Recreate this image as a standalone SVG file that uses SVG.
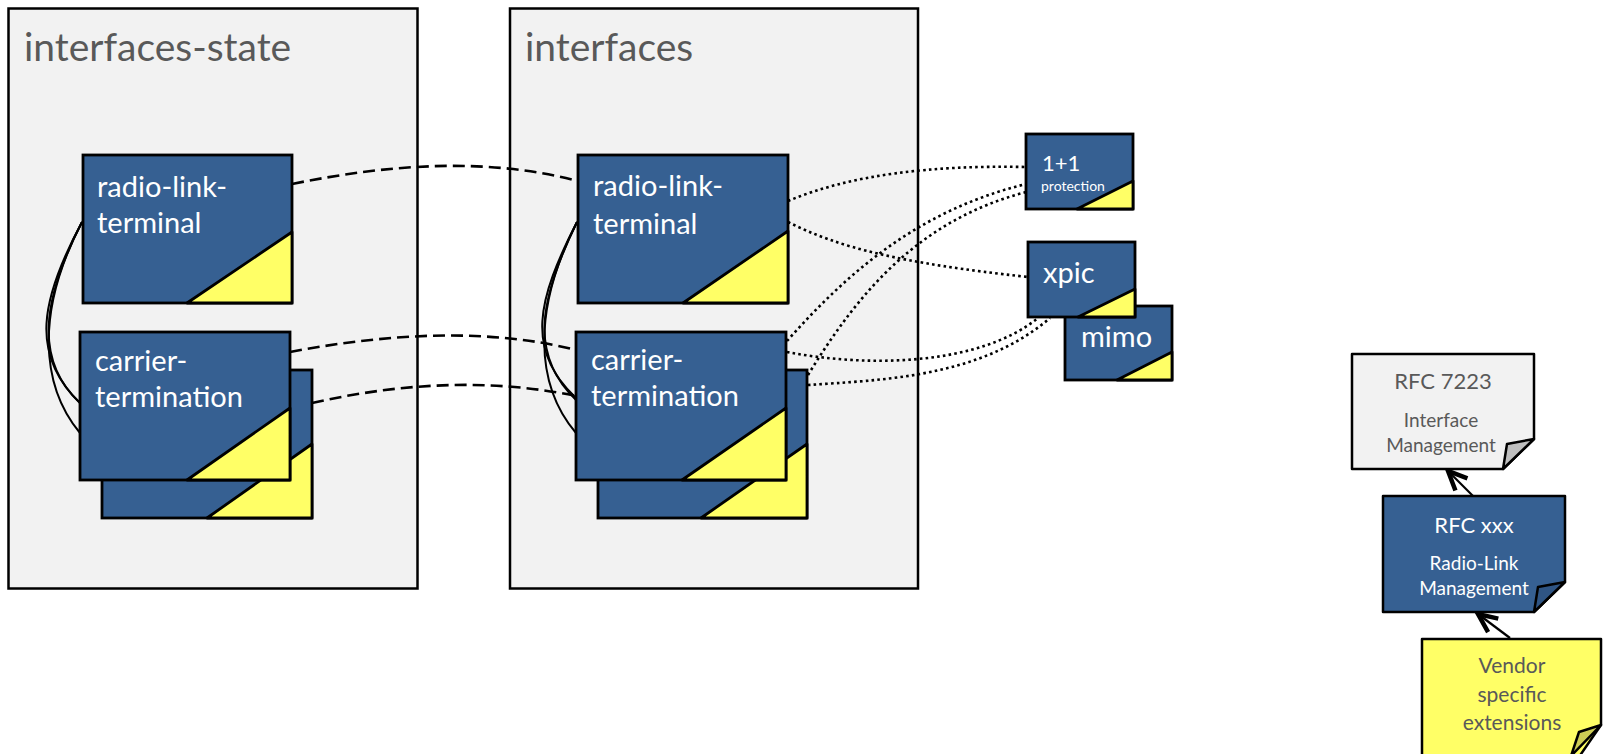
<svg xmlns="http://www.w3.org/2000/svg" width="1608" height="754" viewBox="0 0 1608 754">
<defs>
<style>
.cont{fill:#f2f2f2;stroke:#000;stroke-width:2.5}
.title{font-family:Lato,"Liberation Sans",sans-serif;font-size:39px;fill:#595959}
.box{fill:#366092;stroke:#000;stroke-width:2.8}
.tri{fill:#ffff66;stroke:#000;stroke-width:2.8;stroke-linejoin:round}
.lbl{font-family:Lato,"Liberation Sans",sans-serif;font-size:29px;fill:#ffffff}
.sm{font-family:Lato,"Liberation Sans",sans-serif;fill:#ffffff}
.dash{fill:none;stroke:#000;stroke-width:2.6;stroke-dasharray:12,6}
.dot{fill:none;stroke:#000;stroke-width:2.6;stroke-dasharray:2.6,3.2}
.solid{fill:none;stroke:#000;stroke-width:2}
.doc{stroke:#000;stroke-width:2.5;stroke-linejoin:round}
.dtxt{font-family:Lato,"Liberation Sans",sans-serif;text-anchor:middle}
.arr{fill:none;stroke:#000;stroke-width:2.2;marker-end:url(#ah)}
</style>
<marker id="ah" markerUnits="userSpaceOnUse" markerWidth="30" markerHeight="30" refX="0" refY="0" orient="auto" overflow="visible">
<path d="M-19,-8.5 L0,0 L-19,8.5" fill="none" stroke="#000" stroke-width="4.5" stroke-linejoin="miter"/>
</marker>
</defs>

<g id="interfaces-state">
<rect class="cont" x="8.5" y="8.5" width="409" height="580"/>
<text class="title" x="24" y="61">interfaces-state</text>
</g>
<g id="interfaces">
<rect class="cont" x="510" y="8.5" width="408" height="580"/>
<text class="title" x="525" y="61">interfaces</text>
</g>

<g id="connectors">
<path class="solid" d="M82,222 C40,300 30,355 80,403"/>
<path class="solid" d="M82,222 C42,300 34,360 80,403"/>
<path class="solid" d="M82,222 C36,310 40,385 80,433"/>
<path class="solid" d="M577,222 C537,300 525,350 576,398"/>
<path class="solid" d="M577,222 C539,300 529,355 576,400"/>
<path class="solid" d="M577,222 C532,310 535,385 576,433"/>
<path class="dash" d="M292,184 C395,163 490,158 578,181"/>
<path class="dash" d="M290,352 C390,333 490,328 576,350"/>
<path class="dash" d="M312,403 C400,383 490,378 576,396"/>
<path class="dot" d="M788,201 C850,175 930,165 1026,167"/>
<path class="dot" d="M788,222 C840,248 900,263 1028,277"/>
<path class="dot" d="M787,341 C850,270 920,210 1026,184"/>
<path class="dot" d="M808,375 C860,290 920,220 1026,192"/>
<path class="dot" d="M787,352 C870,368 980,365 1038,318"/>
<path class="dot" d="M808,385 C880,380 980,378 1050,318"/>
<path class="arr" d="M1473,496 L1448,471"/>
<path class="arr" d="M1510,638 L1478,614"/>
</g>

<g id="state-radio-link-terminal">
<rect class="box" x="83" y="155" width="209" height="148"/>
<polygon class="tri" points="292,232 292,303 187,303"/>
<text class="lbl" x="97" y="197">radio-link-</text>
<text class="lbl" x="97" y="233">terminal</text>
</g>
<g id="state-carrier-termination">
<rect class="box" x="102" y="370" width="210" height="148"/>
<polygon class="tri" points="312,444 312,518 207,518"/>
<rect class="box" x="80" y="332" width="210" height="148"/>
<polygon class="tri" points="290,408 290,480 187,480"/>
<text class="lbl" x="95" y="371">carrier-</text>
<text class="lbl" x="95" y="407">termination</text>
</g>

<g id="radio-link-terminal">
<rect class="box" x="578" y="155" width="210" height="148"/>
<polygon class="tri" points="788,231 788,303 683,303"/>
<text class="lbl" x="593" y="196">radio-link-</text>
<text class="lbl" x="593" y="234">terminal</text>
</g>
<g id="carrier-termination">
<rect class="box" x="598" y="370" width="209" height="148"/>
<polygon class="tri" points="807,444 807,518 701,518"/>
<rect class="box" x="576" y="332" width="210" height="148"/>
<polygon class="tri" points="786,408 786,480 682,480"/>
<text class="lbl" x="591" y="370">carrier-</text>
<text class="lbl" x="591" y="406">termination</text>
</g>

<g id="protection">
<rect class="box" x="1026" y="134" width="107" height="75"/>
<polygon class="tri" points="1133,181 1133,209 1077,209"/>
<text class="sm" x="1042" y="171" font-size="22">1+1</text>
<text class="sm" x="1041" y="191" font-size="14">protection</text>
</g>
<g id="mimo">
<rect class="box" x="1065" y="306" width="107" height="74"/>
<polygon class="tri" points="1172,352 1172,380 1117,380"/>
<text class="lbl" x="1081" y="347">mimo</text>
</g>
<g id="xpic">
<rect class="box" x="1028" y="242" width="107" height="75"/>
<polygon class="tri" points="1135,289 1135,317 1078,317"/>
<text class="lbl" x="1043" y="283">xpic</text>
</g>

<g id="rfc7223">
<polygon class="doc" fill="#f2f2f2" points="1352,354 1534,354 1534,439 1503,469 1352,469"/>
<polygon class="doc" fill="#bfbfbf" points="1534,439 1507,444 1503,469"/>
<text class="dtxt" x="1443" y="389" font-size="22" fill="#595959">RFC 7223</text>
<text class="dtxt" x="1441" y="427" font-size="19" fill="#595959">Interface</text>
<text class="dtxt" x="1441" y="452" font-size="19" fill="#595959">Management</text>
</g>
<g id="rfcxxx">
<polygon class="doc" fill="#366092" points="1383,496 1565,496 1565,582 1534,612 1383,612"/>
<polygon class="doc" fill="#2f5584" points="1565,582 1538,587 1534,612"/>
<text class="dtxt" x="1474" y="533" font-size="22" fill="#ffffff">RFC xxx</text>
<text class="dtxt" x="1474" y="570" font-size="19" fill="#ffffff">Radio-Link</text>
<text class="dtxt" x="1474" y="595" font-size="19" fill="#ffffff">Management</text>
</g>
<g id="vendor">
<polygon class="doc" fill="#ffff66" points="1422,639 1601,639 1601,725 1570,770 1422,770"/>
<polygon class="doc" fill="#cccc55" points="1601,725 1579,732 1571,756"/>
<text class="dtxt" x="1512" y="673" font-size="21" fill="#595959">Vendor</text>
<text class="dtxt" x="1512" y="702" font-size="21" fill="#595959">specific</text>
<text class="dtxt" x="1512" y="730" font-size="21" fill="#595959">extensions</text>
</g>
</svg>
